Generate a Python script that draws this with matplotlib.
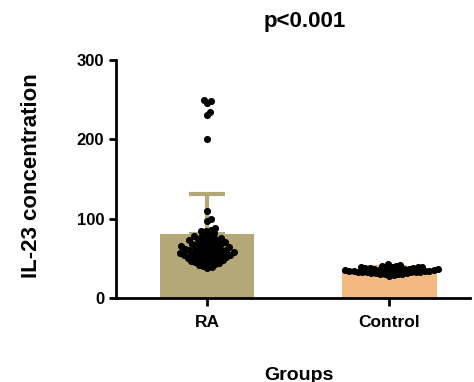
import numpy as np
import matplotlib
matplotlib.use("Agg")
import matplotlib.pyplot as plt

plt.rcParams['font.family'] = ['Liberation Sans', 'DejaVu Sans']
plt.rcParams['font.weight'] = 'bold'

groups = ["RA", "Control"]
means = [81, 35]
sds = [50, 4]
bar_colors = ["#B4A878", "#F4B980"]

ra_values = [250, 248, 246, 235, 231, 200, 110, 99, 97,
             88.4, 86.1, 84.7, 83.9, 82.2, 80.5, 79.3, 78.1, 77.4, 76.2, 75.6,
             74.8, 74.1, 73.3, 72.6, 71.9, 71.2, 70.4, 69.8, 69.1, 68.5, 67.7,
             67.1, 66.4, 65.8, 65.2, 64.6, 64.0, 63.5, 62.9, 62.4, 61.8, 61.3,
             60.7, 60.2, 59.7, 59.1, 58.6, 58.1, 57.6, 57.1, 56.6, 56.1, 55.6,
             55.1, 54.6, 54.1, 53.6, 53.1, 52.6, 52.0, 51.5, 51.0, 50.4, 49.8,
             49.2, 48.6, 48.0, 47.3, 46.6, 45.9, 45.2, 44.4, 43.5, 42.6, 41.6,
             40.5, 39.2, 38.0]
control_values = [43.0, 41.8, 40.9, 40.2, 39.6, 39.0, 38.5, 38.0, 37.6, 37.2,
                  36.8, 36.4, 36.0, 35.7, 35.4, 35.1, 34.8, 34.5, 34.2, 33.9,
                  33.6, 33.3, 33.0, 32.7, 32.4, 32.1, 31.8, 31.4, 31.0, 30.6,
                  30.1, 29.6, 29.0, 28.3, 36.6, 35.9, 34.7, 33.8, 32.9, 37.9,
                  39.3, 30.8]


def swarm_offsets(ys_px, d):
    # simple beeswarm: place each point as close to the centre as possible
    order = np.argsort(ys_px)
    placed = []
    xs = np.zeros(len(ys_px))
    for i in order:
        y = ys_px[i]
        cands = [0.0]
        near = [(px, py) for px, py in placed if abs(py - y) < d]
        for px, py in near:
            dx = np.sqrt(d * d - (py - y) ** 2)
            cands += [px + dx, px - dx]
        cands.sort(key=abs)
        for c in cands:
            if all((c - px) ** 2 + (y - py) ** 2 >= d * d - 1e-6 for px, py in near):
                xs[i] = c
                break
        placed.append((xs[i], y))
    return xs


fig = plt.figure(figsize=(4.74, 3.82), dpi=100)
ax = fig.add_axes([0.245, 0.22, 0.747, 0.623])
x = np.arange(len(groups))
ax.bar(x, means, width=0.52, color=bar_colors, zorder=1)
for xi, m, s, c in zip(x, means, sds, bar_colors):
    ax.errorbar(xi, m, yerr=[[0], [s]], color=c, capsize=13, capthick=3,
                elinewidth=3, zorder=1)

ax.set_xlim(-0.5, 1.445)
ax.set_ylim(0, 300)
fig.canvas.draw()

px_per_x = ax.transData.transform((1, 0))[0] - ax.transData.transform((0, 0))[0]
px_per_y = ax.transData.transform((0, 1))[1] - ax.transData.transform((0, 0))[1]
spacing = 4.5
for xi, vals in zip(x, [ra_values, control_values]):
    vals = np.array(vals, dtype=float)
    offs = swarm_offsets(vals * px_per_y, spacing)
    ax.scatter(xi + offs / px_per_x, vals, s=26, color="black", zorder=3,
               linewidths=0)

ax.set_yticks([0, 100, 200, 300])
ax.set_xticks(x)
ax.set_xticklabels(groups, fontsize=12.5, fontweight='bold')
ax.tick_params(axis='y', labelsize=12, width=2, length=5)
ax.tick_params(axis='x', width=2, length=6, pad=6)
for lab in ax.get_yticklabels():
    lab.set_fontweight('bold')
for sp in ['top', 'right']:
    ax.spines[sp].set_visible(False)
for sp in ['left', 'bottom']:
    ax.spines[sp].set_linewidth(2)

fig.text(32 / 474, 1 - 176 / 382, "IL-23 concentration", rotation=90,
         fontsize=16, fontweight='bold', ha='center', va='center')
fig.text(299 / 474, 1 - 375 / 382, "Groups", fontsize=14, fontweight='bold',
         ha='center', va='center')
fig.text(305 / 474, 1 - 22 / 382, "p<0.001", fontsize=16, fontweight='bold',
         ha='center', va='center')

fig.savefig("out.png", dpi=100)
